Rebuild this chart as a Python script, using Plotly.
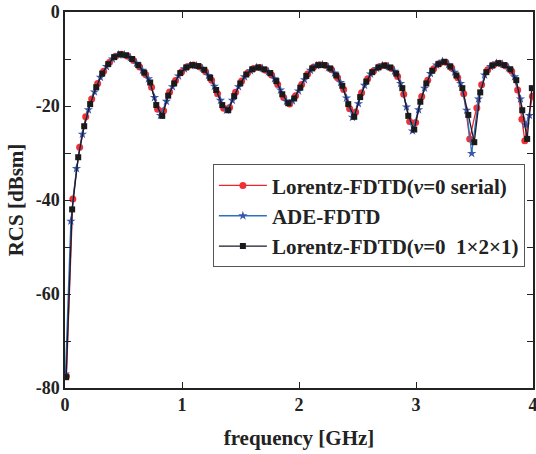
import plotly.graph_objects as go

# ---- data ----
f_black = [0.010, 0.061, 0.113, 0.164, 0.215, 0.267, 0.318, 0.369, 0.420, 0.472,
           0.523, 0.574, 0.626, 0.677, 0.728, 0.780, 0.831, 0.882, 0.933, 0.985,
           1.036, 1.087, 1.139, 1.190, 1.241, 1.292, 1.344, 1.395, 1.446, 1.498,
           1.549, 1.600, 1.652, 1.703, 1.754, 1.806, 1.857, 1.908, 1.959, 2.011,
           2.062, 2.113, 2.164, 2.216, 2.267, 2.318, 2.370, 2.421, 2.472, 2.523,
           2.575, 2.626, 2.678, 2.729, 2.780, 2.831, 2.883, 2.934, 2.985, 3.037,
           3.088, 3.139, 3.191, 3.242, 3.293, 3.345, 3.396, 3.447, 3.498, 3.549,
           3.601, 3.652, 3.703, 3.755, 3.806, 3.857, 3.908, 3.950, 3.990]
rcs_black = [-77.7, -42.0, -30.9, -24.3, -19.6, -16.0, -13.1, -11.1, -9.6, -9.0,
             -9.2, -10.0, -11.3, -12.9, -15.0, -19.8, -22.1, -17.8, -15.2, -13.0,
             -11.8, -11.3, -11.5, -12.3, -14.0, -16.6, -19.8, -20.9, -17.9, -15.2,
             -13.3, -12.2, -11.8, -12.2, -13.0, -14.7, -17.5, -19.4, -18.4, -16.1,
             -13.6, -12.0, -11.3, -11.3, -12.0, -13.5, -15.7, -19.6, -22.3, -18.1,
             -14.8, -12.8, -11.8, -11.4, -11.8, -13.1, -16.2, -22.1, -25.0, -19.1,
             -15.2, -12.5, -11.1, -10.6, -11.6, -13.5, -16.2, -21.9, -27.7, -17.1,
             -12.8, -11.4, -10.9, -11.3, -12.2, -14.5, -20.9, -27.0, -16.2]

f_red = [0.012, 0.067, 0.125, 0.177, 0.228, 0.279, 0.330, 0.381, 0.432, 0.484,
         0.535, 0.586, 0.638, 0.689, 0.740, 0.792, 0.843, 0.894, 0.945, 0.997,
         1.048, 1.099, 1.151, 1.202, 1.253, 1.304, 1.356, 1.407, 1.458, 1.510,
         1.561, 1.612, 1.664, 1.715, 1.766, 1.818, 1.869, 1.920, 1.971, 2.023,
         2.074, 2.125, 2.176, 2.228, 2.279, 2.330, 2.382, 2.433, 2.484, 2.535,
         2.587, 2.638, 2.690, 2.741, 2.792, 2.843, 2.895, 2.946, 2.997, 3.049,
         3.100, 3.151, 3.203, 3.254, 3.305, 3.357, 3.408, 3.459, 3.520, 3.561,
         3.613, 3.664, 3.715, 3.767, 3.818, 3.869, 3.905, 3.930, 3.995]
rcs_red = [-77.5, -39.8, -28.8, -22.3, -18.5, -15.2, -12.6, -10.7, -9.4, -9.0,
           -9.4, -10.3, -11.7, -13.3, -16.0, -20.7, -21.0, -17.0, -14.6, -12.7,
           -11.6, -11.3, -11.7, -12.7, -14.5, -17.4, -20.5, -20.3, -17.1, -14.7,
           -13.0, -12.0, -11.8, -12.4, -13.4, -15.4, -18.2, -19.6, -17.8, -15.4,
           -13.2, -11.7, -11.2, -11.4, -12.3, -14.0, -16.5, -20.6, -21.3, -17.2,
           -14.2, -12.5, -11.6, -11.4, -12.0, -13.7, -17.5, -23.3, -23.5, -18.0,
           -14.5, -12.1, -10.9, -10.7, -11.9, -14.0, -17.4, -27.0, -20.4, -15.5,
           -12.3, -11.2, -10.9, -11.5, -12.6, -16.6, -22.8, -27.4, -17.9]

f_blue = [0.004, 0.050, 0.098, 0.149, 0.200, 0.252, 0.303, 0.354, 0.405, 0.457,
          0.508, 0.559, 0.611, 0.662, 0.713, 0.765, 0.816, 0.867, 0.918, 0.970,
          1.021, 1.072, 1.124, 1.175, 1.226, 1.277, 1.329, 1.380, 1.431, 1.483,
          1.534, 1.585, 1.637, 1.688, 1.739, 1.791, 1.842, 1.893, 1.944, 1.996,
          2.047, 2.098, 2.149, 2.201, 2.252, 2.303, 2.355, 2.406, 2.457, 2.508,
          2.560, 2.611, 2.663, 2.714, 2.765, 2.816, 2.868, 2.919, 2.970, 3.022,
          3.073, 3.124, 3.176, 3.227, 3.278, 3.330, 3.381, 3.433, 3.476, 3.534,
          3.586, 3.637, 3.688, 3.740, 3.791, 3.842, 3.893, 3.935, 3.970]
rcs_blue = [-77.0, -44.5, -33.3, -26.0, -20.8, -17.0, -13.9, -11.6, -10.0, -9.1,
            -9.1, -9.7, -10.9, -12.4, -14.2, -18.2, -22.0, -19.0, -15.9, -13.6,
            -12.1, -11.4, -11.4, -12.0, -13.5, -15.8, -18.8, -20.9, -18.8, -15.9,
            -13.8, -12.5, -11.8, -12.0, -12.7, -14.2, -16.6, -19.0, -18.9, -16.8,
            -14.4, -12.4, -11.4, -11.2, -11.8, -13.0, -15.0, -18.3, -22.4, -19.5,
            -15.6, -13.2, -12.0, -11.4, -11.6, -12.6, -15.2, -20.2, -25.3, -20.8,
            -16.2, -13.1, -11.3, -10.5, -11.2, -12.8, -15.2, -20.9, -30.1, -18.5,
            -13.4, -11.6, -10.9, -11.1, -11.9, -13.8, -18.5, -24.0, -22.0]

names = ["Lorentz-FDTD(<i>ν</i>=0 serial)", "ADE-FDTD",
         "Lorentz-FDTD(<i>ν</i>=0\u00a0\u00a01×2×1)"]

y_tickvals = [-80, -70, -60, -50, -40, -30, -20, -10, 0]
y_ticktext = ["-80", "", "-60", "", "-40", "", "-20", "", "0"]
x_tickvals = [0, 1, 2, 3, 4]

FONT = "Liberation Serif, Times New Roman, serif"

fig = go.Figure()
fig.add_trace(go.Scatter(x=f_red, y=rcs_red, name=names[0], mode="lines+markers",
                         line=dict(color="#e8262c", width=1.3),
                         marker=dict(symbol="circle", size=7, color="#f03035")))
fig.add_trace(go.Scatter(x=f_blue, y=rcs_blue, name=names[1], mode="lines+markers",
                         line=dict(color="#2a72c0", width=1.3),
                         marker=dict(symbol="star", size=7, color="#3a55aa")))
fig.add_trace(go.Scatter(x=f_black, y=rcs_black, name=names[2], mode="lines+markers",
                         line=dict(color="#1a1a2a", width=1.3),
                         marker=dict(symbol="square", size=6, color="#1a1a1a")))

axis_common = dict(showline=True, linecolor="#222", linewidth=1.5, mirror="allticks",
                   ticks="inside", ticklen=6, tickwidth=1.2, tickcolor="#222",
                   showgrid=False, zeroline=False, automargin=False,
                   ticklabeloverflow="allow",
                   tickfont=dict(family=FONT, size=18, color="#222", weight="bold"))

fig.update_xaxes(range=[0, 4], tickvals=x_tickvals, ticktext=[str(v) for v in x_tickvals],
                 title=dict(text="frequency [GHz]", standoff=16,
                            font=dict(family=FONT, size=21, color="#222", weight="bold")),
                 **axis_common)
fig.update_yaxes(range=[-80, 0], tickvals=y_tickvals, ticktext=y_ticktext,
                 title=dict(text="RCS [dBsm]", standoff=6,
                            font=dict(family=FONT, size=21, color="#222", weight="bold")),
                 **axis_common)

fig.update_layout(
    width=536, height=454,
    margin=dict(l=65, r=3, t=12, b=66, autoexpand=False),
    paper_bgcolor="white", plot_bgcolor="white",
    showlegend=True,
    legend=dict(x=0.316, y=0.595, xanchor="left", yanchor="top",
                bgcolor="white", bordercolor="#555", borderwidth=1,
                font=dict(family=FONT, size=21, color="#222", weight="bold"),
                itemwidth=48, tracegroupgap=0),
)

fig.write_html("out.html")
